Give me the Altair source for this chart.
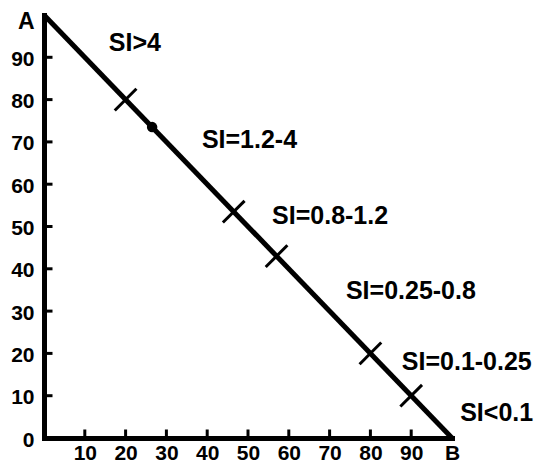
import altair as alt
import pandas as pd

# Diagonal A-B line (end points)
line_x = [0, 100]
line_y = [100, 0]

# Boundary crosses along the line
cross_x = [20, 46.5, 57, 80, 90]
cross_y = [80, 53.5, 43, 20, 10]

# Dot on the line
dot_x = [26.5]
dot_y = [73.5]

# Zone labels
label_text = ["SI>4", "SI=1.2-4", "SI=0.8-1.2", "SI=0.25-0.8", "SI=0.1-0.25", "SI<0.1"]
label_x = [15.9, 38.7, 55.9, 74.0, 87.7, 102.0]
label_y = [93.4, 70.4, 52.5, 34.8, 18.0, 5.9]

# Axis ticks
x_ticks = [10, 20, 30, 40, 50, 60, 70, 80, 90, 100]
y_ticks = [0, 10, 20, 30, 40, 50, 60, 70, 80, 90, 100]
inner_ticks = [10, 20, 30, 40, 50, 60, 70, 80, 90]

FONT = "Liberation Sans"

line_df = pd.DataFrame({"x": line_x, "y": line_y})
cross_df = pd.DataFrame({"x": cross_x, "y": cross_y})
dot_df = pd.DataFrame({"x": dot_x, "y": dot_y})
label_df = pd.DataFrame({"x": label_x, "y": label_y, "t": label_text})
tick_df = pd.DataFrame({"v": inner_ticks})

xs = alt.Scale(domain=[0, 100], nice=False, zero=False)
ys = alt.Scale(domain=[0, 100], nice=False, zero=False)

common_axis = dict(
    grid=False, title=None, tickSize=0, domainWidth=5, domainColor="black",
    domainCap="square", labelFont=FONT, labelFontWeight="bold",
    labelColor="black", labelOverlap=False, labelFlush=False, labelBound=False,
)

x_axis = alt.Axis(values=x_ticks, labelPadding=4, labelFontSize=21,
                  labelExpr="datum.value == 100 ? 'B' : datum.label", **common_axis)
y_axis = alt.Axis(
    values=y_ticks, labelPadding=10,
    labelFontSize={"condition": {"test": "datum.value == 100", "value": 23}, "value": 21},
    labelOffset={"condition": {"test": "datum.value == 100", "value": 6}, "value": 2},
    labelExpr="datum.value == 100 ? 'A' : datum.label", **common_axis)

line = alt.Chart(line_df).mark_line(color="black", strokeWidth=5).encode(
    x=alt.X("x:Q", scale=xs, axis=x_axis),
    y=alt.Y("y:Q", scale=ys, axis=y_axis),
)

crosses = alt.Chart(cross_df).mark_point(
    shape="M -1 1 L 1 -1", size=470, strokeWidth=3, color="black", filled=False, opacity=1
).encode(
    x=alt.X("x:Q", scale=xs, axis=x_axis),
    y=alt.Y("y:Q", scale=ys, axis=y_axis),
)

dot = alt.Chart(dot_df).mark_circle(size=110, color="black", opacity=1).encode(
    x=alt.X("x:Q", scale=xs, axis=x_axis),
    y=alt.Y("y:Q", scale=ys, axis=y_axis),
)

labels = alt.Chart(label_df).mark_text(
    font=FONT, fontSize=25, fontWeight="bold", color="black", align="left", baseline="middle"
).encode(
    x=alt.X("x:Q", scale=xs, axis=x_axis),
    y=alt.Y("y:Q", scale=ys, axis=y_axis),
    text="t:N",
)

xt = alt.Chart(tick_df).mark_tick(orient="vertical", size=9, thickness=3, color="black",
                                  yOffset=-4, opacity=1).encode(
    x=alt.X("v:Q", scale=xs, axis=x_axis),
    y=alt.YDatum(0, scale=ys, axis=y_axis),
)

yt = alt.Chart(tick_df).mark_tick(orient="horizontal", size=9, thickness=3, color="black",
                                  xOffset=4, opacity=1).encode(
    y=alt.Y("v:Q", scale=ys, axis=y_axis),
    x=alt.XDatum(0, scale=xs, axis=x_axis),
)

chart = alt.layer(line, xt, yt, crosses, dot, labels).properties(
    width=408, height=423,
    autosize=alt.AutoSizeParams(type="none"),
    padding={"left": 36, "top": 7, "right": 82, "bottom": 24},
    background="white",
).configure_view(stroke=None)

chart.save("out.html", embed_options={"renderer": "svg", "actions": False})
